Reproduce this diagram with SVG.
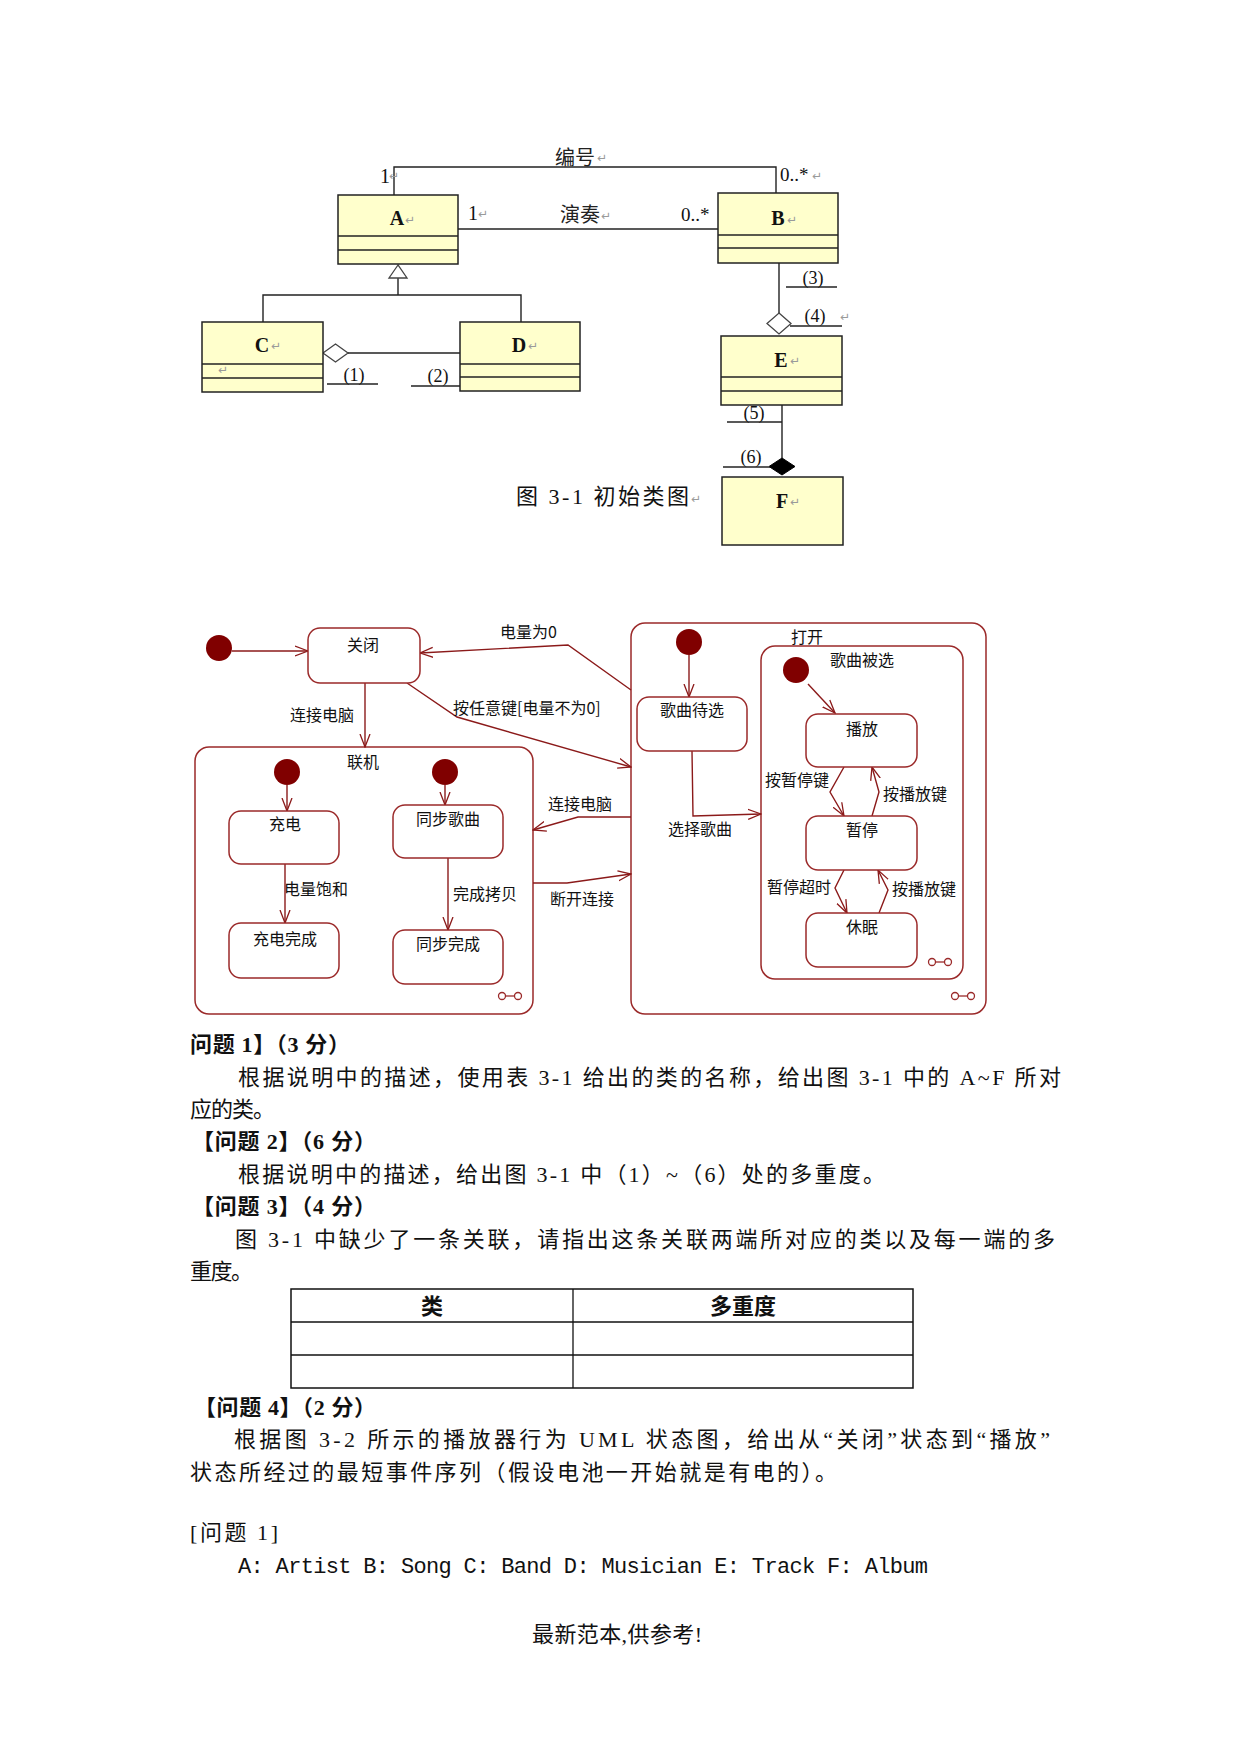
<svg xmlns="http://www.w3.org/2000/svg" width="1241" height="1754" viewBox="0 0 1241 1754">
<style>
.cls{fill:#ffffcc;stroke:#222;stroke-width:1.5}
.sep{stroke:#222;stroke-width:1.3}
.edge{fill:none;stroke:#222;stroke-width:1.4}
.ser{font-family:"Liberation Serif","Noto Sans CJK SC",serif;fill:#111}
.cn{font-family:"Noto Sans CJK SC",sans-serif;fill:#222}
.pm{font-family:"DejaVu Sans",sans-serif;font-size:12px;fill:#9a9a9a}
.st{fill:#fff;stroke:#9b2a2a;stroke-width:1.5}
.tr{fill:none;stroke:#8b1a1a;stroke-width:1.4}
.ini{fill:#800000}
.sl{font-family:"Noto Sans CJK SC",sans-serif;font-size:16px;fill:#111}
.body{font-family:"Liberation Serif","Noto Sans CJK SC",serif;font-size:22px;fill:#111}
.bold{font-weight:bold}
</style>
<defs>
<marker id="open" viewBox="0 0 14 12" refX="13" refY="6" markerWidth="14" markerHeight="12" markerUnits="userSpaceOnUse" orient="auto">
<path d="M0,1 L13,6 L0,11" fill="none" stroke="#8b1a1a" stroke-width="1.3"/>
</marker>
</defs>
<rect width="1241" height="1754" fill="#fff"/>

<!-- ===== Class diagram ===== -->
<g id="class-connectors">
<polyline class="edge" points="394,195 394,167 776,167 776,193"/>
<line class="edge" x1="458" y1="229" x2="718" y2="229"/>
<polyline class="edge" points="263,322 263,295 521,295 521,322"/>
<line class="edge" x1="398" y1="295" x2="398" y2="278"/>
<polygon points="398,265 389,278 407,278" fill="#fff" stroke="#444" stroke-width="1.3"/>
<polygon points="323,353 335.5,344 348,353 335.5,362" fill="#fff" stroke="#444" stroke-width="1.3"/>
<line class="edge" x1="348" y1="353" x2="460" y2="353"/>
<line class="edge" x1="779" y1="263" x2="779" y2="313"/>
<polygon points="779,313 791,323.5 779,334 767,323.5" fill="#fff" stroke="#444" stroke-width="1.3"/>
<line class="edge" x1="782" y1="405" x2="782" y2="458"/>
<polygon points="782,458 795,466.5 782,475 769,466.5" fill="#000" stroke="#000" stroke-width="1"/>
<line class="edge" x1="327" y1="384" x2="378" y2="384"/>
<line class="edge" x1="411" y1="386" x2="462" y2="386"/>
<line class="edge" x1="786" y1="287" x2="837" y2="287"/>
<line class="edge" x1="790" y1="326" x2="842" y2="326"/>
<line class="edge" x1="727" y1="422" x2="782" y2="422"/>
<line class="edge" x1="723" y1="467" x2="770" y2="467"/>
<text class="cn" x="555" y="165" font-size="20">编号</text><text class="pm" x="597" y="162">↵</text>
<text class="ser" x="380" y="183" font-size="20">1</text><text class="pm" x="389" y="180">↵</text>
<text class="ser" x="468" y="220" font-size="20">1</text><text class="pm" x="478" y="218">↵</text>
<text class="cn" x="560" y="222" font-size="20">演奏</text><text class="pm" x="601" y="220">↵</text>
<text class="ser" x="681" y="221" font-size="19" fill="#6a4a20">0..*</text>
<text class="ser" x="780" y="181" font-size="19">0..*</text><text class="pm" x="812" y="180">↵</text>
<text class="ser" x="354" y="381" font-size="18" text-anchor="middle">(1)</text>
<text class="ser" x="438" y="382" font-size="18" text-anchor="middle">(2)</text>
<text class="ser" x="813" y="284" font-size="18" text-anchor="middle">(3)</text>
<text class="ser" x="815" y="322" font-size="18" text-anchor="middle">(4)</text><text class="pm" x="840" y="321">↵</text>
<text class="ser" x="754" y="419" font-size="18" text-anchor="middle">(5)</text>
<text class="ser" x="751" y="463" font-size="18" text-anchor="middle">(6)</text>
</g>

<g id="class-A">
<rect class="cls" x="338" y="195" width="120" height="69"/>
<line class="sep" x1="338" y1="236" x2="458" y2="236"/>
<line class="sep" x1="338" y1="250" x2="458" y2="250"/>
<text class="ser" x="397" y="225" font-size="20" font-weight="bold" text-anchor="middle">A</text><text class="pm" x="405" y="224">↵</text>
</g>
<g id="class-B">
<rect class="cls" x="718" y="193" width="120" height="70"/>
<line class="sep" x1="718" y1="235" x2="838" y2="235"/>
<line class="sep" x1="718" y1="248" x2="838" y2="248"/>
<text class="ser" x="778" y="225" font-size="20" font-weight="bold" text-anchor="middle">B</text><text class="pm" x="787" y="224">↵</text>
</g>
<g id="class-C">
<rect class="cls" x="202" y="322" width="121" height="70"/>
<line class="sep" x1="202" y1="364" x2="323" y2="364"/>
<line class="sep" x1="202" y1="378" x2="323" y2="378"/>
<text class="ser" x="262" y="352" font-size="20" font-weight="bold" text-anchor="middle">C</text><text class="pm" x="271" y="350">↵</text>
<text class="pm" x="218" y="374">↵</text>
</g>
<g id="class-D">
<rect class="cls" x="460" y="322" width="120" height="69"/>
<line class="sep" x1="460" y1="364" x2="580" y2="364"/>
<line class="sep" x1="460" y1="377" x2="580" y2="377"/>
<text class="ser" x="519" y="352" font-size="20" font-weight="bold" text-anchor="middle">D</text><text class="pm" x="528" y="350">↵</text>
</g>
<g id="class-E">
<rect class="cls" x="721" y="336" width="121" height="69"/>
<line class="sep" x1="721" y1="377" x2="842" y2="377"/>
<line class="sep" x1="721" y1="391" x2="842" y2="391"/>
<text class="ser" x="781" y="367" font-size="20" font-weight="bold" text-anchor="middle">E</text><text class="pm" x="790" y="365">↵</text>
</g>
<g id="class-F">
<rect class="cls" x="722" y="477" width="121" height="68"/>
<text class="ser" x="782" y="508" font-size="20" font-weight="bold" text-anchor="middle">F</text><text class="pm" x="790" y="506">↵</text>
</g>
<g id="caption1">
<text class="ser" x="516" y="504" font-size="22" textLength="173">图 3-1  初始类图</text><text class="pm" x="691" y="503">↵</text>
</g>

<!-- ===== State diagram: composite states first ===== -->
<g id="state-online">
<rect class="st" x="195" y="747" width="338" height="267" rx="14"/>
<text class="sl" x="363" y="768" text-anchor="middle">联机</text>
<circle class="ini" cx="287" cy="772" r="13"/>
<circle class="ini" cx="445" cy="772" r="13"/>
<g fill="none" stroke="#9b2a2a" stroke-width="1.3"><circle cx="502" cy="996" r="3.5"/><circle cx="518" cy="996" r="3.5"/><line x1="505.5" y1="996" x2="514.5" y2="996"/></g>
</g>
<g id="state-on">
<rect class="st" x="631" y="623" width="355" height="391" rx="14"/>
<text class="sl" x="807" y="643" text-anchor="middle">打开</text>
<circle class="ini" cx="689" cy="642" r="13"/>
<g fill="none" stroke="#9b2a2a" stroke-width="1.3"><circle cx="955" cy="996" r="3.5"/><circle cx="971" cy="996" r="3.5"/><line x1="958.5" y1="996" x2="967.5" y2="996"/></g>
</g>
<g id="state-selected">
<rect class="st" x="761" y="646" width="202" height="333" rx="14"/>
<text class="sl" x="862" y="666" text-anchor="middle">歌曲被选</text>
<circle class="ini" cx="796" cy="670" r="13"/>
<g fill="none" stroke="#9b2a2a" stroke-width="1.3"><circle cx="932" cy="962" r="3.5"/><circle cx="948" cy="962" r="3.5"/><line x1="935.5" y1="962" x2="944.5" y2="962"/></g>
</g>

<g id="state-connectors">
<line class="tr" x1="232" y1="651" x2="308" y2="651" marker-end="url(#open)"/>
<polyline class="tr" points="631,690 568,645 420,653" marker-end="url(#open)"/>
<polyline class="tr" points="407,683 457,717 631,767" marker-end="url(#open)"/>
<line class="tr" x1="365" y1="683" x2="365" y2="747" marker-end="url(#open)"/>
<polyline class="tr" points="631,817 578,817 533,830" marker-end="url(#open)"/>
<polyline class="tr" points="533,883 567,883 631,874" marker-end="url(#open)"/>
<line class="tr" x1="287" y1="785" x2="287" y2="811" marker-end="url(#open)"/>
<line class="tr" x1="445" y1="785" x2="445" y2="805" marker-end="url(#open)"/>
<line class="tr" x1="285" y1="864" x2="285" y2="923" marker-end="url(#open)"/>
<line class="tr" x1="448" y1="858" x2="448" y2="930" marker-end="url(#open)"/>
<line class="tr" x1="689" y1="655" x2="689" y2="697" marker-end="url(#open)"/>
<polyline class="tr" points="692,751 693,816 761,814" marker-end="url(#open)"/>
<line class="tr" x1="808" y1="684" x2="835" y2="713" marker-end="url(#open)"/>
<polyline class="tr" points="844,767 830,792 844,816" marker-end="url(#open)"/>
<polyline class="tr" points="872,816 879,792 872,767" marker-end="url(#open)"/>
<polyline class="tr" points="844,870 835,888 847,913" marker-end="url(#open)"/>
<polyline class="tr" points="879,913 888,890 878,870" marker-end="url(#open)"/>
<text class="sl" x="500" y="638">电量为0</text>
<text class="sl" x="453" y="714">按任意键[电量不为0]</text>
<text class="sl" x="290" y="721">连接电脑</text>
<text class="sl" x="548" y="810">连接电脑</text>
<text class="sl" x="550" y="905">断开连接</text>
<text class="sl" x="284" y="895">电量饱和</text>
<text class="sl" x="453" y="900">完成拷贝</text>
<text class="sl" x="668" y="835">选择歌曲</text>
<text class="sl" x="765" y="786">按暂停键</text>
<text class="sl" x="883" y="800">按播放键</text>
<text class="sl" x="767" y="893">暂停超时</text>
<text class="sl" x="892" y="895">按播放键</text>
</g>

<g id="init-top"><circle class="ini" cx="219" cy="648" r="13"/></g>
<g id="state-off">
<rect class="st" x="308" y="628" width="112" height="55" rx="12"/>
<text class="sl" x="363" y="651" text-anchor="middle">关闭</text>
</g>
<g id="state-charge">
<rect class="st" x="229" y="811" width="110" height="53" rx="12"/>
<text class="sl" x="285" y="830" text-anchor="middle">充电</text>
</g>
<g id="state-charged">
<rect class="st" x="229" y="923" width="110" height="55" rx="12"/>
<text class="sl" x="285" y="945" text-anchor="middle">充电完成</text>
</g>
<g id="state-sync">
<rect class="st" x="393" y="805" width="110" height="53" rx="12"/>
<text class="sl" x="448" y="825" text-anchor="middle">同步歌曲</text>
</g>
<g id="state-synced">
<rect class="st" x="393" y="930" width="110" height="54" rx="12"/>
<text class="sl" x="448" y="950" text-anchor="middle">同步完成</text>
</g>
<g id="state-waiting">
<rect class="st" x="637" y="697" width="110" height="54" rx="12"/>
<text class="sl" x="692" y="716" text-anchor="middle">歌曲待选</text>
</g>
<g id="state-play">
<rect class="st" x="806" y="714" width="111" height="53" rx="12"/>
<text class="sl" x="862" y="735" text-anchor="middle">播放</text>
</g>
<g id="state-pause">
<rect class="st" x="806" y="816" width="111" height="54" rx="12"/>
<text class="sl" x="862" y="836" text-anchor="middle">暂停</text>
</g>
<g id="state-sleep">
<rect class="st" x="806" y="913" width="111" height="54" rx="12"/>
<text class="sl" x="862" y="933" text-anchor="middle">休眠</text>
</g>

<!-- ===== Text ===== -->
<g id="questions">
<text class="body bold" x="190" y="1052" textLength="160">问题 1】（3 分）</text>
<text class="body" x="238" y="1085" textLength="823">根据说明中的描述，使用表 3-1 给出的类的名称，给出图 3-1 中的 A~F 所对</text>
<text class="body" x="190" y="1117" textLength="85">应的类。</text>
<text class="body bold" x="192" y="1149" textLength="184">【问题 2】（6 分）</text>
<text class="body" x="238" y="1182" textLength="647">根据说明中的描述，给出图 3-1 中（1）~（6）处的多重度。</text>
<text class="body bold" x="192" y="1214" textLength="184">【问题 3】（4 分）</text>
<text class="body" x="235" y="1247" textLength="820">图 3-1 中缺少了一条关联，请指出这条关联两端所对应的类以及每一端的多</text>
<text class="body" x="190" y="1279" textLength="63">重度。</text>
</g>
<g id="table">
<rect x="291" y="1289" width="622" height="99" fill="none" stroke="#111" stroke-width="1.5"/>
<line x1="291" y1="1322" x2="913" y2="1322" stroke="#111" stroke-width="1.3"/>
<line x1="291" y1="1355" x2="913" y2="1355" stroke="#111" stroke-width="1.3"/>
<line x1="573" y1="1289" x2="573" y2="1388" stroke="#111" stroke-width="1.3"/>
<text class="body bold" x="432" y="1314" text-anchor="middle">类</text>
<text class="body bold" x="743" y="1314" text-anchor="middle">多重度</text>
</g>
<g id="question4">
<text class="body bold" x="194" y="1415" textLength="182">【问题 4】（2 分）</text>
<text class="body" x="234" y="1447" textLength="816">根据图 3-2 所示的播放器行为 UML 状态图，给出从“关闭”状态到“播放”</text>
<text class="body" x="190" y="1480" textLength="647">状态所经过的最短事件序列（假设电池一开始就是有电的）。</text>
<text class="body" x="190" y="1540" textLength="88">[问题 1]</text>
<text x="238" y="1573" font-family="Liberation Mono,'Noto Sans CJK SC',monospace" font-size="22" fill="#111" textLength="690">A: Artist B: Song C: Band D: Musician E: Track F: Album</text>
<text class="body" x="532" y="1642" font-size="20" textLength="170">最新范本,供参考!</text>
</g>
</svg>
